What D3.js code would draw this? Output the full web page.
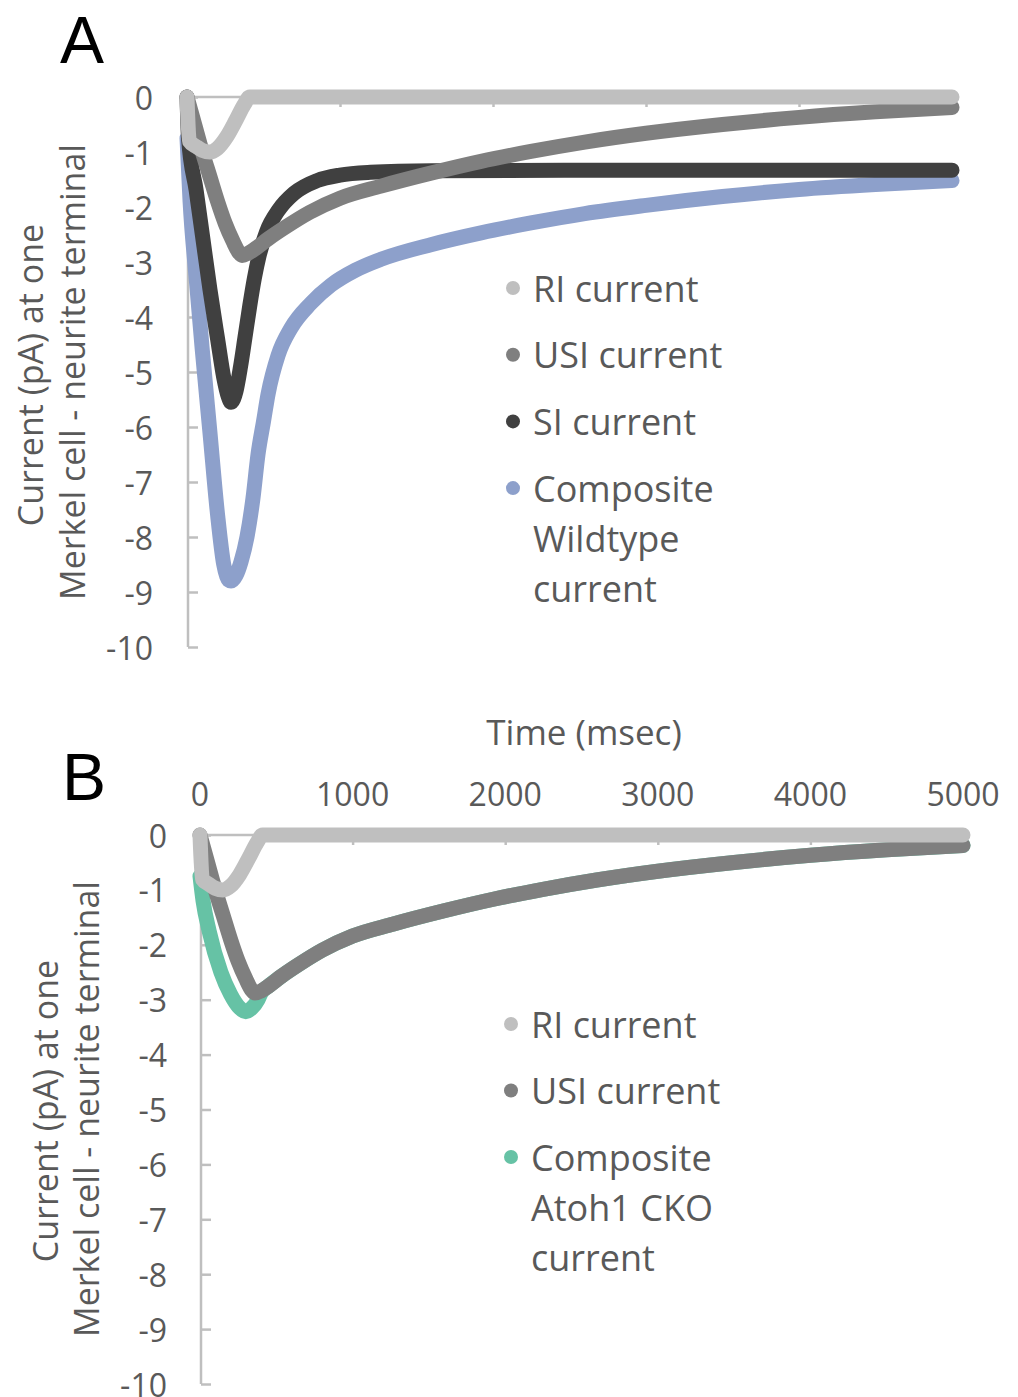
<!DOCTYPE html>
<html>
<head>
<meta charset="utf-8">
<script src="https://cdn.jsdelivr.net/npm/d3@7"></script>
<style>
  html, body { margin: 0; padding: 0; background: #fff; }
  svg { display: block; font-family: "Open Sans", "Noto Sans", sans-serif; }
</style>
</head>
<body>
<svg id="chart" width="1018" height="1397"></svg>
<script>
// ---------- data (time in msec, current in pA) ----------
const xTicks = [0, 1000, 2000, 3000, 4000, 5000];
const yTicks = [0, -1, -2, -3, -4, -5, -6, -7, -8, -9, -10];

const riCurrent = [[0,0],[15,-0.8],[60,-0.9],[100,-0.97],[150,-1.0],[200,-0.93],[260,-0.72],[320,-0.42],[373,-0.14],[410,0],[1000,0],[2000,0],[3000,0],[4000,0],[5000,0]];

const usiCurrent = [[0,0],[50,-0.5],[100,-1.0],[150,-1.45],[200,-1.9],[250,-2.3],[300,-2.62],[340,-2.83],[360,-2.88],[400,-2.84],[450,-2.75],[530,-2.58],[647,-2.36],[800,-2.1],[1000,-1.84],[1268,-1.62],[1600,-1.38],[1922,-1.17],[2248,-0.99],[2600,-0.82],[3000,-0.66],[3500,-0.5],[4000,-0.37],[4500,-0.27],[5000,-0.19]];

const siCurrent = [[0,0],[10,-0.75],[60,-1.7],[100,-2.5],[150,-3.5],[200,-4.4],[240,-5.1],[270,-5.45],[288,-5.55],[320,-5.35],[350,-4.9],[380,-4.35],[410,-3.8],[440,-3.3],[470,-2.9],[520,-2.45],[600,-2.05],[700,-1.75],[850,-1.52],[1000,-1.42],[1200,-1.37],[1600,-1.34],[2500,-1.33],[3500,-1.33],[5000,-1.33]];

const wildtypeComposite = [[0,-0.75],[20,-1.9],[60,-3.3],[100,-4.6],[150,-6.1],[200,-7.6],[240,-8.5],[270,-8.78],[288,-8.8],[320,-8.7],[353,-8.45],[392,-8.0],[431,-7.3],[464,-6.5],[500,-5.9],[530,-5.4],[595,-4.7],[680,-4.2],[810,-3.75],[941,-3.42],[1100,-3.15],[1268,-2.95],[1600,-2.68],[1922,-2.47],[2248,-2.29],[2600,-2.12],[3000,-1.97],[3500,-1.81],[4000,-1.68],[4500,-1.59],[5000,-1.52]];

const atohComposite = [[0,-0.75],[20,-1.2],[60,-1.75],[137,-2.5],[200,-2.9],[260,-3.15],[300,-3.22],[340,-3.15],[380,-3.0],[400,-2.88],[450,-2.75],[530,-2.58],[647,-2.36],[800,-2.1],[1000,-1.84],[1268,-1.62],[1600,-1.38],[1922,-1.17],[2248,-0.99],[2600,-0.82],[3000,-0.66],[3500,-0.5],[4000,-0.37],[4500,-0.27],[5000,-0.19]];

const legendA = ["RI current", "USI current", "SI current", "Composite|Wildtype|current"];
const legendB = ["RI current", "USI current", "Composite|Atoh1 CKO|current"];

const colors = { ri: "#bfbfbf", usi: "#7f7f7f", si: "#404040", wt: "#8da0cb", cko: "#66c2a5" };
const textColor = "#595959";
const axisColor = "#bfbfbf";

// ---------- drawing ----------
const svg = d3.select("#chart");

function panel(cfg) {
  const g = svg.append("g");
  const x = d3.scaleLinear().domain([0, 5000]).range(cfg.xRange);
  const y = d3.scaleLinear().domain([0, -10]).range(cfg.yRange);

  // y axis (ticks pointing inward)
  const yAxis = d3.axisRight(y).tickValues(yTicks).tickSize(10).tickFormat("");
  const ya = g.append("g").attr("transform", `translate(${cfg.yAxisX},0)`).call(yAxis);
  ya.select(".domain").attr("stroke", axisColor).attr("stroke-width", 2.5).attr("d", `M0,${cfg.yRange[0]}V${cfg.yRange[1]}`);
  ya.selectAll(".tick line").attr("stroke", axisColor).attr("stroke-width", 2.5);

  // y labels
  g.selectAll("text.ylab").data(yTicks).join("text")
    .attr("class", "ylab")
    .attr("x", cfg.yLabelX).attr("y", d => y(d))
    .attr("text-anchor", "end").attr("dominant-baseline", "central")
    .attr("font-size", 32).attr("fill", textColor)
    .text(d => d);

  // x axis (ticks pointing down)
  const xAxis = d3.axisBottom(x).tickValues(xTicks).tickSize(10).tickFormat("");
  const xa = g.append("g").attr("transform", `translate(0,${y(0)})`).call(xAxis);
  xa.select(".domain").attr("stroke", axisColor).attr("stroke-width", 2.5).attr("d", `M${cfg.yAxisX},0H${cfg.xRange[1]}`);
  xa.selectAll(".tick line").attr("stroke", axisColor).attr("stroke-width", 2.5);
  xa.selectAll(".tick").filter(d => d === 0).select("line").remove();

  if (cfg.xLabels) {
    g.selectAll("text.xlab").data(xTicks).join("text")
      .attr("class", "xlab")
      .attr("x", d => x(d)).attr("y", cfg.xLabelY)
      .attr("text-anchor", "middle").attr("dominant-baseline", "central")
      .attr("font-size", 32).attr("fill", textColor)
      .text(d => d);
    g.append("text").attr("x", cfg.xTitleX).attr("y", cfg.xTitleY)
      .attr("text-anchor", "middle").attr("dominant-baseline", "central")
      .attr("font-size", 35).attr("fill", textColor).text("Time (msec)");
  }

  // lines
  const line = d3.line().x(d => x(d[0])).y(d => y(d[1])).curve(d3.curveMonotoneX);
  cfg.series.forEach(s => {
    g.append("path").datum(s.data)
      .attr("d", line)
      .attr("fill", "none").attr("stroke", s.color)
      .attr("stroke-width", 15).attr("stroke-linecap", "round").attr("stroke-linejoin", "round");
  });

  // y title
  cfg.yTitle.forEach(t => {
    g.append("text")
      .attr("transform", `translate(${t.x},${t.y}) rotate(-90)`)
      .attr("text-anchor", "middle").attr("dominant-baseline", "central")
      .attr("font-size", 34).attr("fill", textColor).text(t.text);
  });

  // legend
  cfg.legend.forEach((lab, i) => {
    const ly = cfg.legendY + i * cfg.legendStep;
    g.append("circle").attr("cx", cfg.legendX).attr("cy", ly).attr("r", 7).attr("fill", cfg.legendColors[i]);
    lab.split("|").forEach((part, j) => {
      g.append("text").attr("x", cfg.legendX + 20).attr("y", ly + j * 50)
        .attr("dominant-baseline", "central")
        .attr("font-size", 36).attr("fill", textColor).text(part);
    });
  });

  // panel letter
  g.append("text").attr("x", cfg.letter.x).attr("y", cfg.letter.y)
    .attr("font-family", "'Liberation Sans', Arial, sans-serif")
    .attr("font-size", 66).attr("fill", "#000").text(cfg.letter.t);
}

panel({
  xRange: [187, 952], yRange: [97, 647], yAxisX: 188, yLabelX: 153,
  xLabels: false,
  series: [
    { data: wildtypeComposite, color: colors.wt },
    { data: siCurrent, color: colors.si },
    { data: usiCurrent, color: colors.usi },
    { data: riCurrent, color: colors.ri }
  ],
  yTitle: [
    { text: "Current (pA) at one", x: 30, y: 375 },
    { text: "Merkel cell - neurite terminal", x: 72, y: 372 }
  ],
  legend: legendA, legendColors: [colors.ri, colors.usi, colors.si, colors.wt],
  legendX: 513, legendY: 288, legendStep: 66.7,
  letter: { t: "A", x: 60, y: 63 }
});

panel({
  xRange: [200, 963], yRange: [835, 1384], yAxisX: 201, yLabelX: 167,
  xLabels: true, xLabelY: 793, xTitleX: 584, xTitleY: 731,
  series: [
    { data: atohComposite, color: colors.cko },
    { data: usiCurrent, color: colors.usi },
    { data: riCurrent, color: colors.ri }
  ],
  yTitle: [
    { text: "Current (pA) at one", x: 45, y: 1111 },
    { text: "Merkel cell - neurite terminal", x: 86, y: 1109 }
  ],
  legend: legendB, legendColors: [colors.ri, colors.usi, colors.cko],
  legendX: 511, legendY: 1024, legendStep: 66.5,
  letter: { t: "B", x: 62, y: 800 }
});
</script>
</body>
</html>
